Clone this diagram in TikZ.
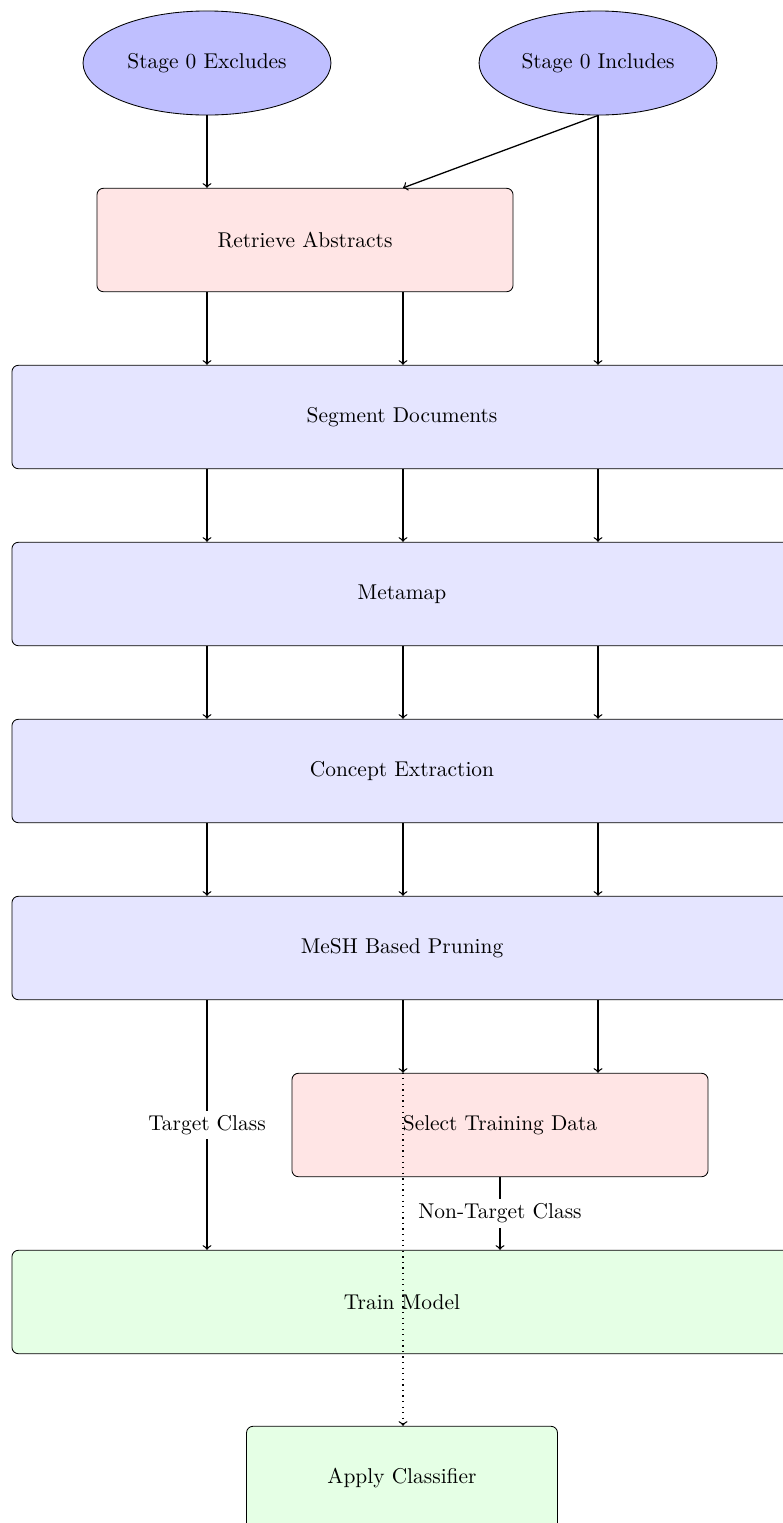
\documentclass[tikz,border=0pt]{standalone}
\usetikzlibrary{calc,shapes.geometric}
\begin{document}
\begin{tikzpicture}[x=0.467pt,y=-0.467pt,
  stage/.style={ellipse,draw,fill=blue!25,minimum height=48.6pt,inner sep=0pt},
  proc/.style={rectangle,draw,rounded corners=3pt,minimum height=48.3pt,inner sep=0pt},
  wide/.style={proc,fill=blue!10,minimum width=364.3pt},
  manual/.style={proc,fill=red!10,minimum width=194.3pt},
  learn/.style={proc,fill=green!10},
  arr/.style={->,semithick},
  lbl/.style={fill=white,inner sep=2pt}]
\useasboundingbox (0,0) rectangle (783,1523);
\clip (0,0) rectangle (783,1523);

% inputs
\node[stage,minimum width=115.8pt] (exc) at (207,63) {Stage 0 Excludes};
\node[stage,minimum width=111.1pt] (inc) at (598,63) {Stage 0 Includes};

% processing chain
\node[manual] (ret) at (305,240) {Retrieve Abstracts};
\node[wide] (seg) at (402,417) {Segment Documents};
\node[wide] (mm) at (402,594) {Metamap};
\node[wide] (ce) at (402,771) {Concept Extraction};
\node[wide] (mesh) at (402,948) {MeSH Based Pruning};
\node[manual] (sel) at (500,1125) {Select Training Data};
\node[learn,minimum width=364.3pt] (train) at (402,1302) {Train Model};
\node[learn,minimum width=145.2pt] (apply) at (402,1478) {Apply Classifier};

% three data columns
\coordinate (cL) at (207,0);
\coordinate (cM) at (403,0);
\coordinate (cR) at (598,0);

\draw[arr] (exc.south) -- (ret.north -| cL);
\draw[arr] (inc.south) -- (ret.north -| cM);
\draw[arr] (inc.south) -- (seg.north -| cR);
\draw[arr] (ret.south -| cL) -- (seg.north -| cL);
\draw[arr] (ret.south -| cM) -- (seg.north -| cM);

\foreach \a/\b in {seg/mm, mm/ce, ce/mesh}{
  \foreach \c in {cL,cM,cR}{
    \draw[arr] (\a.south -| \c) -- (\b.north -| \c);
  }
}

\draw[arr] (mesh.south -| cL) -- node[lbl] (tc) {Target Class} (train.north -| cL);
\draw[arr] (mesh.south -| cM) -- (sel.north -| cM);
\draw[arr] (mesh.south -| cR) -- (sel.north -| cR);
\draw[arr] (sel.south) -- node[lbl] (ntc) {Non-Target Class} (train.north -| sel.south);
\draw[arr,dotted] (mesh.south -| cM) -- (apply.north -| cM);
\end{tikzpicture}
\end{document}
